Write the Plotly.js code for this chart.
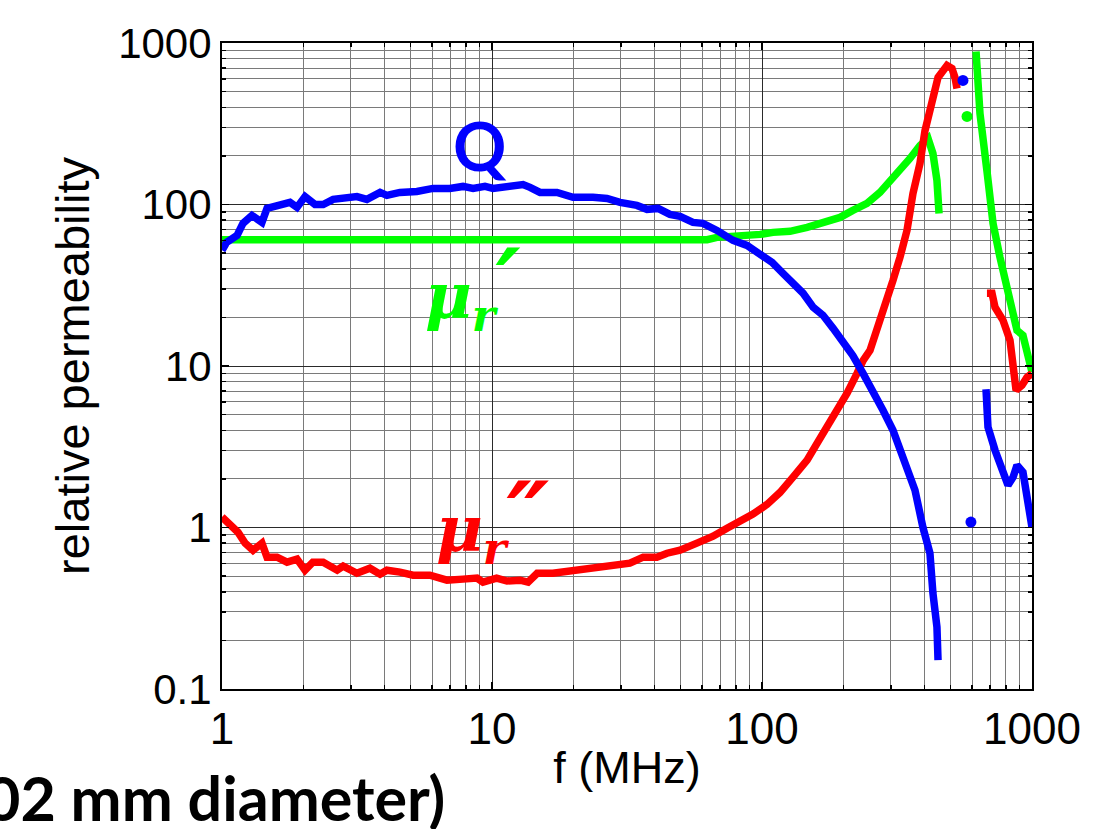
<!DOCTYPE html>
<html>
<head>
<meta charset="utf-8">
<script src="https://cdn.plot.ly/plotly-3.0.1.min.js"></script>
<style>html,body{margin:0;padding:0;background:#fff;}#chart{width:1100px;height:829px;}</style>
</head>
<body>
<div id="chart"></div>
<script>
// ---- data (f in MHz, relative permeability / Q) ----
const qF1 = [1.0,1.04,1.137,1.196,1.291,1.406,1.468,1.64,1.786,1.896,2.03,2.21,2.37,2.58,2.90,3.16,3.44,3.85,4.08,4.56,5.27,6.04,6.98,7.81,8.51,9.42,10.09,11.37,13.03,13.83,15.06,17.41,19.95,23.66,26.67,29.8,34.4,37.5,41.2,45.6,49.7,55.5,60.4,68.1,71.7,78.1,88,98.4,109,119.6,130,142,154.6,168.3,183.4,199.5,217,236.7,257.8,280.6,305.6,332.7,368.7,394.6,418.8,429.6,444.6,448.7];
const qV1 = [52,58.3,64.4,76.4,85.6,77.5,94.6,100,103,96,112,100,100,107.6,109,112,107.6,118.8,113.8,118.8,120.5,125.8,125.8,129.4,125.8,129.4,125.8,129.4,133,127.6,118.8,118.8,110.7,110.7,109,103,98.7,93.3,94.6,86.8,84.4,77.5,76.4,69.1,65.3,60,55.8,48.4,43.8,37.5,32.5,28.2,23.1,20.6,17.1,14.0,11.6,9.0,7.08,5.32,4.0,2.72,1.70,1.0,0.693,0.392,0.242,0.151];
const qF2 = [675.5,687,729.6,774,814.8,851,880,926,958,983,1000];
const qV2 = [7.18,4.18,3.01,2.26,1.83,2.05,2.43,2.2,1.63,1.16,1.0];
const qDotF = [555,594];
const qDotV = [586,1.08];

const mu1F1 = [1.0,2.0,5.0,10,20,40,62.6,68.1,85.1,98.4,109.8,127,146.9,168.3,194.6,217,244.9,273.5,305.6,332.7,353.2,384.6,411.9,429.6,444.6,452.6];
const mu1V1 = [60.5,60.5,60.5,60.5,60.5,60.5,60.5,62.6,63.5,65.3,67.2,68.2,72.2,76.4,83.2,91.9,101.6,118.8,145,174.6,192.9,232,256.5,207,141,88.1];
const mu1F2 = [620.5,641.7,680.7,717.3,760.9,829,880,926,983,1000];
const mu1V2 = [885,366,162.5,76.4,47.1,26.6,16.6,15.5,9.8,9.15];
const mu1DotF = [574.6];
const mu1DotV = [351];

const mu2F1 = [1.0,1.07,1.146,1.217,1.303,1.406,1.468,1.599,1.741,1.896,2.03,2.17,2.37,2.67,2.81,3.16,3.53,3.85,4.08,4.56,5.1,5.89,6.81,7.81,8.80,9.26,10.4,11.37,12.7,13.6,14.7,16.8,19.0,21.7,25.1,28.1,29.8,32.4,36.3,40.8,44.5,49.7,57.4,65.9,74.2,82.9,92.6,104.4,116.7,130.3,146.9,159.9,174.2,189.8,206.6,224.9,236.7,251.2,266.6,280.6,305.6,324.4,344.4,362.4,384.6,401.6,426.6,448.7,484.5,505.5,518.5,527.6];
const mu2V1 = [1.16,1.03,0.935,0.80,0.723,0.80,0.655,0.655,0.61,0.637,0.544,0.61,0.61,0.544,0.576,0.521,0.56,0.514,0.544,0.529,0.507,0.507,0.472,0.479,0.486,0.459,0.486,0.466,0.472,0.459,0.521,0.521,0.537,0.552,0.56,0.576,0.593,0.601,0.655,0.655,0.693,0.724,0.80,0.883,0.99,1.08,1.21,1.39,1.65,2.05,2.61,3.32,4.18,5.32,6.78,9.0,10.8,12.5,16.6,22.1,33.9,47.1,69.2,117,179.6,287,460,612,726,695,612,523];
const mu2F2 = [681,711,729.6,781,829,851,873,918,958,1000];
const mu2V2 = [28.2,28.2,23.1,19.2,14.4,10.1,7.08,7.6,8.5,9.0];

const xTickLabels = ['1','10','100','1000'];
const yTickLabels = ['0.1','1','10','100','1000'];

const BLUE = '#0000ff', GREEN = '#00ff00', RED = '#ff0000';
const LW = 7.5;

function line(x, y, c){ return {x:x, y:y, type:'scatter', mode:'lines', line:{color:c, width:LW}, hoverinfo:'skip', showlegend:false}; }
function dots(x, y, c){ return {x:x, y:y, type:'scatter', mode:'markers', marker:{color:c, size:11}, hoverinfo:'skip', showlegend:false}; }

const traces = [
  line(mu1F1, mu1V1, GREEN), line(mu1F2, mu1V2, GREEN), dots(mu1DotF, mu1DotV, GREEN),
  line(mu2F1, mu2V1, RED), line(mu2F2, mu2V2, RED),
  line(qF1, qV1, BLUE), line(qF2, qV2, BLUE), dots(qDotF, qDotV, BLUE)
];

const axisCommon = {
  type:'log', showline:true, linecolor:'#000', linewidth:2, mirror:'allticks',
  ticks:'inside', ticklen:7, tickwidth:1.5, tickcolor:'#000',
  showgrid:true, gridcolor:'#2a2a2a', gridwidth:1, zeroline:false,
  exponentformat:'none',
  minor:{dtick:'D1', showgrid:true, gridcolor:'#7a7a7a', gridwidth:1, ticks:'inside', ticklen:4, tickcolor:'#000'}
};

const PRIME = '<span style="font-family:DejaVu Sans;font-size:96px">′</span>';
const DPRIME = '<span style="font-family:DejaVu Sans;font-size:96px">″</span>';

const layout = {
  width:1100, height:829,
  margin:{l:222, r:68, t:43, b:140},
  paper_bgcolor:'#fff', plot_bgcolor:'#fff',
  font:{family:'Liberation Sans, Arial, sans-serif', color:'#000'},
  xaxis: Object.assign({}, axisCommon, {
    range:[0,3], tickvals:[1,10,100,1000], ticktext:xTickLabels,
    tickfont:{size:44, family:'Liberation Sans, Arial, sans-serif'},
    title:{text:'f (MHz)', font:{size:45}, standoff:0}
  }),
  yaxis: Object.assign({}, axisCommon, {
    range:[-1,3], tickvals:[0.1,1,10,100,1000], ticktext:yTickLabels,
    tickfont:{size:42, family:'Liberation Sans, Arial, sans-serif'},
    title:{text:'relative permeability', font:{size:47}, standoff:14}
  }),
  annotations:[
    {xref:'x', yref:'y', x:0.955, y:2.366, text:'<b>Q</b>', showarrow:false,
     font:{family:'Lato, Open Sans, sans-serif', size:66, color:BLUE}},
    {xref:'x', yref:'y', x:0.93, y:1.50, text:'<b><i>μ<sub>r</sub>' + PRIME + '</i></b>', showarrow:false,
     font:{family:'DejaVu Serif, serif', size:64, color:GREEN}},
    {xref:'x', yref:'y', x:1.0, y:0.055, text:'<b><i>μ<sub>r</sub>' + DPRIME + '</i></b>', showarrow:false,
     font:{family:'DejaVu Serif, serif', size:64, color:RED}},
    {xref:'paper', yref:'paper', x:(447-222)/810, y:(689-797)/646, xanchor:'right', yanchor:'middle',
     text:'<b>02 mm diameter)</b>', showarrow:false,
     font:{family:'Lato, Open Sans, sans-serif', size:61, color:'#000'}}
  ]
};

Plotly.newPlot('chart', traces, layout, {staticPlot:true, displayModeBar:false});
</script>
</body>
</html>
